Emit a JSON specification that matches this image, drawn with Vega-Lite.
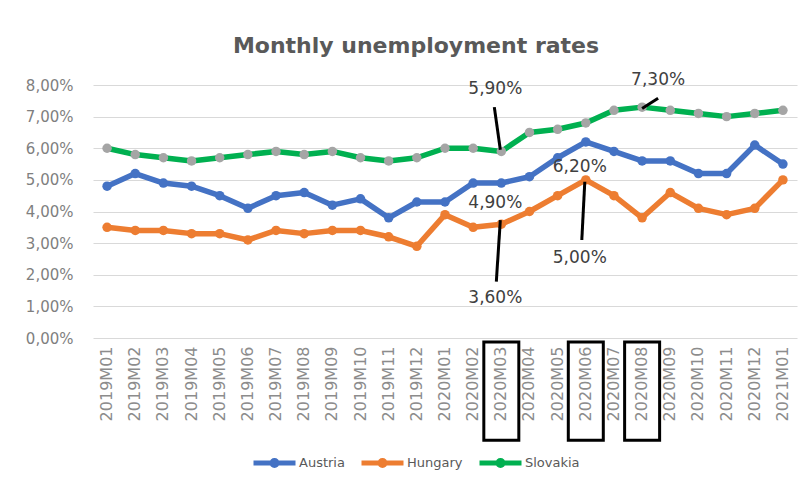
{
  "$schema": "https://vega.github.io/schema/vega-lite/v6.json",
  "width": 704,
  "height": 253,
  "autosize": {"type": "none"},
  "padding": {"left": 93, "top": 85, "right": 6, "bottom": 143},
  "background": "white",
  "title": {
    "text": "Monthly unemployment rates",
    "anchor": "middle",
    "dx": -29,
    "offset": -4,
    "baseline": "alphabetic",
    "font": "DejaVu Sans",
    "fontSize": 22,
    "fontWeight": "bold",
    "color": "#595959"
  },
  "datasets": {
    "rates": [
      {"month": "2019M01", "country": "Austria", "value": 4.8},
      {"month": "2019M02", "country": "Austria", "value": 5.2},
      {"month": "2019M03", "country": "Austria", "value": 4.9},
      {"month": "2019M04", "country": "Austria", "value": 4.8},
      {"month": "2019M05", "country": "Austria", "value": 4.5},
      {"month": "2019M06", "country": "Austria", "value": 4.1},
      {"month": "2019M07", "country": "Austria", "value": 4.5},
      {"month": "2019M08", "country": "Austria", "value": 4.6},
      {"month": "2019M09", "country": "Austria", "value": 4.2},
      {"month": "2019M10", "country": "Austria", "value": 4.4},
      {"month": "2019M11", "country": "Austria", "value": 3.8},
      {"month": "2019M12", "country": "Austria", "value": 4.3},
      {"month": "2020M01", "country": "Austria", "value": 4.3},
      {"month": "2020M02", "country": "Austria", "value": 4.9},
      {"month": "2020M03", "country": "Austria", "value": 4.9},
      {"month": "2020M04", "country": "Austria", "value": 5.1},
      {"month": "2020M05", "country": "Austria", "value": 5.7},
      {"month": "2020M06", "country": "Austria", "value": 6.2},
      {"month": "2020M07", "country": "Austria", "value": 5.9},
      {"month": "2020M08", "country": "Austria", "value": 5.6},
      {"month": "2020M09", "country": "Austria", "value": 5.6},
      {"month": "2020M10", "country": "Austria", "value": 5.2},
      {"month": "2020M11", "country": "Austria", "value": 5.2},
      {"month": "2020M12", "country": "Austria", "value": 6.1},
      {"month": "2021M01", "country": "Austria", "value": 5.5},
      {"month": "2019M01", "country": "Hungary", "value": 3.5},
      {"month": "2019M02", "country": "Hungary", "value": 3.4},
      {"month": "2019M03", "country": "Hungary", "value": 3.4},
      {"month": "2019M04", "country": "Hungary", "value": 3.3},
      {"month": "2019M05", "country": "Hungary", "value": 3.3},
      {"month": "2019M06", "country": "Hungary", "value": 3.1},
      {"month": "2019M07", "country": "Hungary", "value": 3.4},
      {"month": "2019M08", "country": "Hungary", "value": 3.3},
      {"month": "2019M09", "country": "Hungary", "value": 3.4},
      {"month": "2019M10", "country": "Hungary", "value": 3.4},
      {"month": "2019M11", "country": "Hungary", "value": 3.2},
      {"month": "2019M12", "country": "Hungary", "value": 2.9},
      {"month": "2020M01", "country": "Hungary", "value": 3.9},
      {"month": "2020M02", "country": "Hungary", "value": 3.5},
      {"month": "2020M03", "country": "Hungary", "value": 3.6},
      {"month": "2020M04", "country": "Hungary", "value": 4.0},
      {"month": "2020M05", "country": "Hungary", "value": 4.5},
      {"month": "2020M06", "country": "Hungary", "value": 5.0},
      {"month": "2020M07", "country": "Hungary", "value": 4.5},
      {"month": "2020M08", "country": "Hungary", "value": 3.8},
      {"month": "2020M09", "country": "Hungary", "value": 4.6},
      {"month": "2020M10", "country": "Hungary", "value": 4.1},
      {"month": "2020M11", "country": "Hungary", "value": 3.9},
      {"month": "2020M12", "country": "Hungary", "value": 4.1},
      {"month": "2021M01", "country": "Hungary", "value": 5.0},
      {"month": "2019M01", "country": "Slovakia", "value": 6.0},
      {"month": "2019M02", "country": "Slovakia", "value": 5.8},
      {"month": "2019M03", "country": "Slovakia", "value": 5.7},
      {"month": "2019M04", "country": "Slovakia", "value": 5.6},
      {"month": "2019M05", "country": "Slovakia", "value": 5.7},
      {"month": "2019M06", "country": "Slovakia", "value": 5.8},
      {"month": "2019M07", "country": "Slovakia", "value": 5.9},
      {"month": "2019M08", "country": "Slovakia", "value": 5.8},
      {"month": "2019M09", "country": "Slovakia", "value": 5.9},
      {"month": "2019M10", "country": "Slovakia", "value": 5.7},
      {"month": "2019M11", "country": "Slovakia", "value": 5.6},
      {"month": "2019M12", "country": "Slovakia", "value": 5.7},
      {"month": "2020M01", "country": "Slovakia", "value": 6.0},
      {"month": "2020M02", "country": "Slovakia", "value": 6.0},
      {"month": "2020M03", "country": "Slovakia", "value": 5.9},
      {"month": "2020M04", "country": "Slovakia", "value": 6.5},
      {"month": "2020M05", "country": "Slovakia", "value": 6.6},
      {"month": "2020M06", "country": "Slovakia", "value": 6.8},
      {"month": "2020M07", "country": "Slovakia", "value": 7.2},
      {"month": "2020M08", "country": "Slovakia", "value": 7.3},
      {"month": "2020M09", "country": "Slovakia", "value": 7.2},
      {"month": "2020M10", "country": "Slovakia", "value": 7.1},
      {"month": "2020M11", "country": "Slovakia", "value": 7.0},
      {"month": "2020M12", "country": "Slovakia", "value": 7.1},
      {"month": "2021M01", "country": "Slovakia", "value": 7.2}
    ],
    "boxes": [
      {"month": "2020M03", "value": -0.13, "value2": -3.23},
      {"month": "2020M06", "value": -0.13, "value2": -3.23},
      {"month": "2020M08", "value": -0.13, "value2": -3.23}
    ],
    "leaders": [
      {"id": "sk", "month": "2020M03", "value": 7.30, "value2": 5.95},
      {"id": "sk2", "month": "2020M08", "value": 7.26, "value2": 7.58},
      {"id": "hu2", "month": "2020M06", "value": 3.10, "value2": 4.94},
      {"id": "hu", "month": "2020M03", "value": 1.78, "value2": 3.73}
    ],
    "labels": [
      {"id": "sk", "month": "2020M03", "label": "5,90%", "value": 7.86},
      {"id": "sk2", "month": "2020M08", "label": "7,30%", "value": 8.16},
      {"id": "at2", "month": "2020M06", "label": "6,20%", "value": 5.42},
      {"id": "at", "month": "2020M03", "label": "4,90%", "value": 4.26},
      {"id": "hu2", "month": "2020M06", "label": "5,00%", "value": 2.52},
      {"id": "hu", "month": "2020M03", "label": "3,60%", "value": 1.26}
    ]
  },
  "encoding": {
    "x": {
      "field": "month", "type": "ordinal", "sort": null,
      "scale": {"type": "band", "paddingInner": 0, "paddingOuter": 0},
      "axis": {
        "title": null, "labelAngle": -90, "labelPadding": 8,
        "ticks": false, "domain": false, "grid": false,
        "labelFont": "DejaVu Sans", "labelFontSize": 16, "labelColor": "#8c8c8c"
      }
    },
    "y": {
      "field": "value", "type": "quantitative",
      "scale": {"domain": [0, 8], "nice": false},
      "axis": {
        "title": null, "values": [0, 1, 2, 3, 4, 5, 6, 7, 8],
        "labelExpr": "replace(format(datum.value, '.2f'), '.', ',') + '%'",
        "ticks": false, "domain": false, "labelPadding": 20, "labelOverlap": false,
        "gridColor": "#d9d9d9", "gridWidth": 1,
        "labelFont": "DejaVu Sans", "labelFontSize": 15, "labelColor": "#7f7f7f"
      }
    }
  },
  "layer": [
    {
      "data": {"name": "rates"},
      "mark": {"type": "line", "strokeWidth": 5.5, "strokeJoin": "round"},
      "encoding": {
        "color": {
          "field": "country", "type": "nominal",
          "scale": {"domain": ["Austria", "Hungary", "Slovakia"], "range": ["#4472c4", "#ed7d31", "#00b050"]},
          "legend": {
            "title": null, "orient": "none", "direction": "horizontal",
            "legendX": 158, "legendY": 354,
            "symbolType": "M-1,0H1M-0.12,0A0.12,0.12,0,1,1,0.12,0A0.12,0.12,0,1,1,-0.12,0",
            "symbolSize": 1764, "symbolStrokeWidth": 5,
            "labelFont": "DejaVu Sans", "labelFontSize": 13, "labelColor": "#595959",
            "labelOffset": 1, "columnPadding": 6
          }
        }
      }
    },
    {
      "data": {"name": "rates"},
      "mark": {"type": "point", "filled": true, "size": 90, "opacity": 1},
      "encoding": {
        "fill": {
          "field": "country", "type": "nominal",
          "scale": {"domain": ["Austria", "Hungary", "Slovakia"], "range": ["#4472c4", "#ed7d31", "#a5a5a5"]},
          "legend": null
        }
      }
    },
    {
      "data": {"name": "boxes"},
      "mark": {"type": "bar", "width": 35, "fill": "transparent", "stroke": "black", "strokeWidth": 3, "clip": false},
      "encoding": {"y2": {"field": "value2"}}
    },
    {
      "data": {"name": "leaders"},
      "transform": [{"filter": "datum.id == 'sk'"}],
      "mark": {"type": "rule", "color": "black", "strokeWidth": 3, "xOffset": -7, "x2Offset": -1},
      "encoding": {"x2": {"field": "month"}, "y2": {"field": "value2"}}
    },
    {
      "data": {"name": "leaders"},
      "transform": [{"filter": "datum.id == 'sk2'"}],
      "mark": {"type": "rule", "color": "black", "strokeWidth": 3, "xOffset": 0, "x2Offset": 16},
      "encoding": {"x2": {"field": "month"}, "y2": {"field": "value2"}}
    },
    {
      "data": {"name": "leaders"},
      "transform": [{"filter": "datum.id == 'hu2'"}],
      "mark": {"type": "rule", "color": "black", "strokeWidth": 3, "xOffset": -4, "x2Offset": -1},
      "encoding": {"x2": {"field": "month"}, "y2": {"field": "value2"}}
    },
    {
      "data": {"name": "leaders"},
      "transform": [{"filter": "datum.id == 'hu'"}],
      "mark": {"type": "rule", "color": "black", "strokeWidth": 3, "xOffset": -5, "x2Offset": -1},
      "encoding": {"x2": {"field": "month"}, "y2": {"field": "value2"}}
    },
    {
      "data": {"name": "labels"},
      "transform": [{"filter": "datum.id != 'sk2'"}],
      "mark": {"type": "text", "font": "DejaVu Sans", "fontSize": 17, "color": "#404040", "align": "center", "baseline": "middle", "dx": -6},
      "encoding": {"text": {"field": "label", "type": "nominal"}}
    },
    {
      "data": {"name": "labels"},
      "transform": [{"filter": "datum.id == 'sk2'"}],
      "mark": {"type": "text", "font": "DejaVu Sans", "fontSize": 17, "color": "#404040", "align": "center", "baseline": "middle", "dx": 16},
      "encoding": {"text": {"field": "label", "type": "nominal"}}
    }
  ],
  "config": {
    "view": {"stroke": null}
  }
}
